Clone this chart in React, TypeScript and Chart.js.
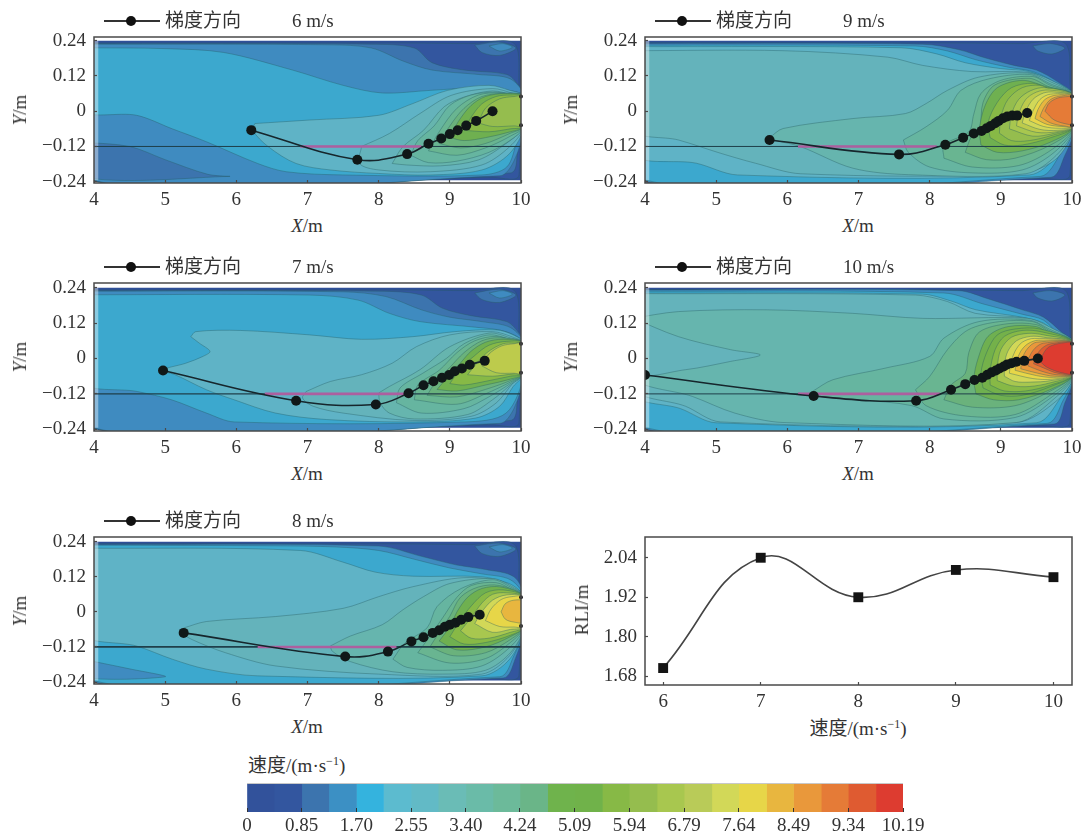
import React, { useEffect, useRef } from "react";
import { Chart, registerables } from "chart.js";

Chart.register(...registerables);

type Pt = [number, number];
type Band = [number, Pt[]];

const SERIF = '"Liberation Serif", "Noto Sans CJK SC", serif';
const INK = "#333333";

const X_TICKS = [4, 5, 6, 7, 8, 9, 10];
const Y_TICKS = [-0.24, -0.12, 0, 0.12, 0.24];
const Y_LABELS = ["−0.24", "−0.12", "0", "0.12", "0.24"];

const BAR_LEVEL_COLORS = ["#32529b","#33569f","#3c74ae","#3c90c4","#34b3de","#5cbbcf","#62bac6","#6abcb6","#6abba8","#6cba9a","#6ab588","#6fb34c","#70b24a","#87b946","#95bd4e","#a8c74f","#b9cb58","#d2d858","#e7d648","#e8b63f","#e9983b","#e57b37","#df5b31","#dd3c30"];
const FIELD_COLORS = ["#2f4f98","#33569f","#3c74ae","#3f8bc0","#3ca8ce","#5fb3c6","#64b3bb","#66b5ae","#66b5a0","#69b591","#6ab27c","#6fb050","#74b14a","#87b946","#95bd4e","#a8c74f","#bdcb4c","#d2d858","#e7d648","#e8b63f","#e9983b","#e57b37","#df5b31","#dd3c30"];
const COLOR_BOUNDS = [0,0.42,0.85,1.27,1.7,2.12,2.55,2.97,3.4,3.82,4.24,4.67,5.09,5.52,5.94,6.37,6.79,7.22,7.64,8.07,8.49,8.92,9.34,9.77,10.19];
const BAR_TICKS = [0,0.85,1.7,2.55,3.4,4.24,5.09,5.94,6.79,7.64,8.49,9.34,10.19];
const BAR_LABELS = ["0","0.85","1.70","2.55","3.40","4.24","5.09","5.94","6.79","7.64","8.49","9.34","10.19"];

const RLI_SPEEDS = [6, 7, 8, 9, 10];
const RLI_VALUES = [1.705, 2.04, 1.92, 2.003, 1.981];
const RLI_TICKS = [1.68, 1.8, 1.92, 2.04];

const FIELD_RECT: Pt[] = [[3.8,0.24],[10,0.24],[10,-0.235],[3.8,-0.235]];
const FIELD_MARGIN: Pt[] = [[4,0.24],[4.06,0.24],[4.06,-0.235],[4,-0.235]];
const OUTLET_MARKS: Pt[] = [[10,0.05],[10,-0.048]];

const PATH_6: Pt[] = [[6.21,-0.0645],[7.7,-0.165],[8.4,-0.146],[8.7,-0.111],[8.88,-0.093],[9.0,-0.078],[9.11,-0.065],[9.23,-0.049],[9.37,-0.033],[9.6,0]];
const PATH_7: Pt[] = [[4.97,-0.041],[6.84,-0.143],[7.96,-0.156],[8.42,-0.118],[8.63,-0.091],[8.77,-0.077],[8.89,-0.065],[8.99,-0.056],[9.07,-0.043],[9.17,-0.034],[9.28,-0.021],[9.49,-0.008]];
const PATH_8: Pt[] = [[5.26,-0.072],[7.53,-0.153],[8.13,-0.136],[8.46,-0.101],[8.63,-0.087],[8.76,-0.072],[8.85,-0.063],[8.93,-0.051],[9.0,-0.044],[9.08,-0.037],[9.16,-0.027],[9.26,-0.018],[9.42,-0.01]];
const PATH_9: Pt[] = [[5.75,-0.098],[7.57,-0.147],[8.22,-0.114],[8.47,-0.09],[8.62,-0.076],[8.73,-0.067],[8.8,-0.058],[8.86,-0.05],[8.92,-0.041],[8.97,-0.033],[9.03,-0.024],[9.09,-0.018],[9.16,-0.015],[9.23,-0.015],[9.37,-0.006]];
const PATH_10: Pt[] = [[4.0,-0.056],[6.37,-0.127],[7.81,-0.143],[8.3,-0.106],[8.5,-0.087],[8.63,-0.073],[8.74,-0.065],[8.81,-0.055],[8.87,-0.047],[8.93,-0.041],[8.98,-0.034],[9.04,-0.027],[9.09,-0.02],[9.15,-0.016],[9.22,-0.011],[9.33,-0.008],[9.52,0]];

const AXIS_LINE: Pt[] = [[4,-0.12],[10,-0.12]];
const LIMIT_6: Pt[] = [[6.9,-0.12],[8.6,-0.12]];
const LIMIT_7: Pt[] = [[6.4,-0.12],[8.4,-0.12]];
const LIMIT_8: Pt[] = [[6.3,-0.12],[8.25,-0.12]];
const LIMIT_9: Pt[] = [[6.15,-0.12],[8.1,-0.12]];
const LIMIT_10: Pt[] = [[6.15,-0.12],[8.15,-0.12]];

const BANDS_6: Band[] = [
  [1, [[3.8,0.232],[8.4,0.232],[9.3,0.23],[9.9,0.232],[9.97,0.1],[9.97,-0.22],[9.6,-0.225],[3.8,-0.225]]],
  [2, [[3.8,0.23],[7.9,0.228],[8.5,0.215],[8.75,0.165],[9.2,0.14],[9.8,0.125],[9.96,0.09],[10.05,0.05],[10.05,-0.05],[9.96,-0.12],[9.85,-0.21],[3.8,-0.223]]],
  [3, [[3.8,0.228],[7.3,0.226],[7.9,0.215],[8.35,0.17],[8.75,0.14],[9.4,0.125],[9.85,0.11],[10.05,0.05],[10.05,-0.05],[9.9,-0.17],[9.7,-0.22],[3.8,-0.222]]],
  [2, [[3.8,-0.105],[4.5,-0.12],[5.0,-0.165],[5.6,-0.215],[5.9,-0.222],[3.8,-0.222]]],
  [4, [[3.8,0.216],[5.0,0.213],[5.82,0.2],[6.79,0.14],[7.5,0.088],[8.05,0.062],[8.73,0.071],[9.45,0.08],[9.85,0.07],[10.05,0.05],[10.05,-0.05],[9.95,-0.1],[9.8,-0.19],[9.45,-0.217],[7.5,-0.217],[6.7,-0.206],[6.3,-0.178],[5.58,-0.104],[5.1,-0.06],[4.6,-0.014],[3.8,0.006]]],
  [2, [[9.35,0.225],[9.7,0.235],[9.93,0.215],[9.7,0.19],[9.45,0.2]]],
  [3, [[9.55,0.222],[9.75,0.23],[9.88,0.218],[9.7,0.205]]],
  [5, [[6.26,-0.042],[7.03,-0.03],[8.0,-0.014],[8.48,0.026],[8.97,0.071],[9.55,0.088],[9.84,0.071],[10.05,0.05],[10.05,-0.05],[9.84,-0.144],[9.45,-0.2],[8.73,-0.217],[8,-0.212],[7.32,-0.2],[6.84,-0.178],[6.45,-0.121],[6.23,-0.065]]],
  [6, [[7.76,-0.12],[8.15,-0.076],[8.58,-0.008],[9.02,0.054],[9.6,0.077],[9.9,0.06],[10.05,0.05],[10.05,-0.05],[9.84,-0.121],[9.45,-0.183],[8.73,-0.206],[8,-0.2],[7.73,-0.178]]],
  [7, [[8.19,-0.178],[8.34,-0.121],[8.63,-0.065],[8.92,0.015],[9.21,0.049],[9.6,0.069],[9.9,0.055],[10.05,0.05],[10.05,-0.05],[9.79,-0.11],[9.4,-0.166],[8.87,-0.186],[8.39,-0.183]]],
  [8, [[8.45,-0.15],[8.55,-0.1],[8.78,-0.05],[9.0,0.02],[9.3,0.055],[9.65,0.065],[9.95,0.052],[10.05,0.05],[10.05,-0.05],[9.9,-0.09],[9.55,-0.14],[9.1,-0.17],[8.7,-0.175]]],
  [9, [[8.7,-0.135],[8.85,-0.07],[9.1,0.01],[9.4,0.055],[9.7,0.062],[10.05,0.05],[10.05,-0.05],[9.85,-0.085],[9.5,-0.125],[9.1,-0.15]]],
  [10, [[8.85,-0.11],[9.0,-0.05],[9.2,0.01],[9.45,0.05],[9.75,0.06],[10.05,0.05],[10.05,-0.05],[9.85,-0.075],[9.5,-0.11],[9.15,-0.125]]],
  [11, [[9.0,-0.09],[9.12,-0.035],[9.3,0.02],[9.5,0.05],[9.78,0.06],[10.05,0.05],[10.05,-0.05],[9.85,-0.07],[9.5,-0.09],[9.2,-0.1]]],
  [13, [[9.2,-0.065],[9.3,-0.02],[9.45,0.025],[9.65,0.05],[9.85,0.055],[10.05,0.05],[10.05,-0.05],[9.85,-0.06],[9.55,-0.07]]],
  [14, [[9.4,-0.04],[9.5,0.01],[9.7,0.042],[9.9,0.05],[10.05,0.05],[10.05,-0.05],[9.9,-0.05],[9.6,-0.052]]],
];

const BANDS_7: Band[] = [
  [1, [[3.8,0.232],[8.4,0.232],[9.3,0.23],[9.9,0.232],[9.97,0.1],[9.97,-0.22],[9.6,-0.225],[3.8,-0.225]]],
  [2, [[3.8,0.23],[8.0,0.228],[8.6,0.215],[8.9,0.17],[9.3,0.145],[9.8,0.125],[9.96,0.09],[10.05,0.05],[10.05,-0.05],[9.96,-0.12],[9.85,-0.21],[3.8,-0.223]]],
  [3, [[3.8,0.228],[7.5,0.226],[8.1,0.21],[8.6,0.165],[9.0,0.14],[9.45,0.125],[9.85,0.105],[10.05,0.05],[10.05,-0.05],[9.9,-0.17],[9.7,-0.22],[3.8,-0.222]]],
  [4, [[3.8,0.216],[7.03,0.215],[7.71,0.198],[8.15,0.153],[8.58,0.125],[9.36,0.106],[9.79,0.091],[10.05,0.05],[10.05,-0.05],[9.79,-0.185],[9.21,-0.215],[5.97,-0.215],[5.58,-0.185],[5.09,-0.14],[4.61,-0.112],[3.8,-0.075]]],
  [2, [[9.35,0.222],[9.7,0.235],[9.93,0.215],[9.7,0.19],[9.45,0.2]]],
  [3, [[9.55,0.222],[9.75,0.23],[9.88,0.218],[9.7,0.205]]],
  [5, [[5.36,0.074],[5.43,0.091],[6.06,0.095],[7.03,0.08],[7.76,0.065],[8.48,0.074],[9.07,0.091],[9.65,0.097],[9.89,0.08],[10.05,0.05],[10.05,-0.05],[9.89,-0.095],[9.7,-0.162],[9.36,-0.202],[8.48,-0.215],[7.27,-0.207],[6.55,-0.185],[5.97,-0.14],[5.58,-0.106],[5.14,-0.055],[4.95,-0.04],[5.29,-0.016],[5.53,0.007],[5.63,0.024],[5.48,0.052]]],
  [6, [[6.98,-0.112],[7.32,-0.078],[7.76,-0.055],[8.19,-0.016],[8.53,0.04],[9.0,0.08],[9.6,0.091],[9.89,0.072],[10.05,0.05],[10.05,-0.05],[9.89,-0.083],[9.65,-0.151],[9.3,-0.196],[8.48,-0.21],[7.5,-0.185],[7.08,-0.162],[6.93,-0.134]]],
  [7, [[8.0,-0.117],[8.15,-0.095],[8.58,-0.038],[9,0.04],[9.55,0.086],[9.85,0.07],[10.05,0.05],[10.05,-0.05],[9.85,-0.09],[9.6,-0.14],[9.25,-0.19],[8.5,-0.205],[8.15,-0.185],[8.02,-0.15]]],
  [8, [[8.25,-0.15],[8.3,-0.1],[8.62,-0.05],[8.95,0],[9.2,0.05],[9.55,0.08],[9.85,0.065],[10.05,0.05],[10.05,-0.05],[9.85,-0.085],[9.55,-0.13],[9.2,-0.17],[8.6,-0.185]]],
  [9, [[8.5,-0.14],[8.55,-0.09],[8.85,-0.04],[9.1,0.02],[9.35,0.06],[9.65,0.075],[9.9,0.06],[10.05,0.05],[10.05,-0.05],[9.85,-0.08],[9.5,-0.12],[9.1,-0.155]]],
  [10, [[8.68,-0.125],[8.8,-0.08],[9.0,-0.03],[9.2,0.02],[9.45,0.06],[9.7,0.07],[10.05,0.05],[10.05,-0.05],[9.85,-0.075],[9.5,-0.105],[9.1,-0.13]]],
  [11, [[8.82,-0.105],[8.98,-0.06],[9.15,-0.015],[9.3,0.025],[9.5,0.055],[9.75,0.065],[10.05,0.05],[10.05,-0.05],[9.85,-0.07],[9.5,-0.09],[9.1,-0.11]]],
  [13, [[9.0,-0.085],[9.15,-0.035],[9.35,0.01],[9.55,0.045],[9.8,0.058],[10.05,0.05],[10.05,-0.05],[9.85,-0.06],[9.55,-0.075],[9.2,-0.09]]],
  [15, [[9.25,-0.055],[9.4,-0.01],[9.55,0.025],[9.75,0.05],[9.9,0.052],[10.05,0.05],[10.05,-0.05],[9.9,-0.052],[9.6,-0.06]]],
  [16, [[9.45,-0.025],[9.55,0.015],[9.72,0.042],[9.9,0.05],[10.05,0.05],[10.05,-0.05],[9.9,-0.05],[9.65,-0.048]]],
];

const BANDS_8: Band[] = [
  [1, [[3.8,0.234],[8.4,0.232],[9.3,0.23],[9.9,0.232],[9.97,0.1],[9.97,-0.22],[9.6,-0.228],[3.8,-0.228]]],
  [3, [[3.8,0.23],[8.0,0.225],[8.6,0.19],[9.1,0.16],[9.5,0.145],[9.9,0.12],[10.05,0.05],[10.05,-0.05],[9.92,-0.16],[9.75,-0.226],[3.8,-0.226]]],
  [4, [[3.8,0.228],[6.5,0.226],[7.4,0.222],[8.0,0.21],[8.5,0.18],[9.0,0.15],[9.45,0.13],[9.85,0.11],[10.05,0.05],[10.05,-0.05],[9.9,-0.15],[9.7,-0.222],[3.8,-0.222]]],
  [3, [[3.8,-0.16],[4.5,-0.195],[5.0,-0.222],[3.8,-0.222]]],
  [5, [[3.8,0.218],[6.9,0.21],[7.5,0.17],[7.95,0.136],[8.48,0.122],[9.45,0.12],[9.8,0.097],[10.05,0.05],[10.05,-0.05],[9.84,-0.162],[9.45,-0.219],[6.3,-0.219],[5.58,-0.196],[5.1,-0.162],[4.6,-0.117],[3.8,-0.07]]],
  [2, [[9.35,0.225],[9.7,0.235],[9.93,0.215],[9.7,0.19],[9.45,0.2]]],
  [3, [[9.55,0.222],[9.75,0.23],[9.88,0.218],[9.7,0.205]]],
  [6, [[5.26,-0.055],[5.58,-0.033],[6.55,-0.016],[7.5,0.012],[8,0.052],[8.48,0.086],[9.2,0.117],[9.8,0.1],[10.05,0.05],[10.05,-0.05],[9.84,-0.15],[9.45,-0.213],[8,-0.213],[6.55,-0.185],[5.85,-0.14],[5.38,-0.095],[5.24,-0.072]]],
  [7, [[7.32,-0.117],[7.6,-0.083],[8.05,-0.044],[8.34,0.007],[8.63,0.052],[9,0.097],[9.6,0.114],[9.85,0.09],[10.05,0.05],[10.05,-0.05],[9.85,-0.14],[9.5,-0.2],[8.9,-0.213],[8.2,-0.205],[7.6,-0.17],[7.35,-0.135]]],
  [8, [[8.2,-0.162],[8.37,-0.106],[8.68,-0.055],[8.82,0.018],[9.16,0.08],[9.6,0.11],[9.85,0.085],[10.05,0.05],[10.05,-0.05],[9.85,-0.12],[9.45,-0.185],[8.9,-0.2],[8.4,-0.19]]],
  [9, [[8.55,-0.14],[8.7,-0.09],[8.9,-0.02],[9.1,0.05],[9.3,0.09],[9.65,0.1],[9.88,0.075],[10.05,0.05],[10.05,-0.05],[9.85,-0.105],[9.5,-0.16],[9.0,-0.175]]],
  [10, [[8.72,-0.12],[8.85,-0.07],[9.0,-0.015],[9.15,0.05],[9.4,0.085],[9.7,0.09],[10.05,0.05],[10.05,-0.05],[9.85,-0.095],[9.5,-0.14],[9.05,-0.15]]],
  [11, [[8.85,-0.1],[9.0,-0.05],[9.1,0],[9.25,0.05],[9.45,0.08],[9.72,0.085],[10.05,0.05],[10.05,-0.05],[9.85,-0.085],[9.5,-0.12],[9.1,-0.13]]],
  [13, [[9.0,-0.085],[9.13,-0.035],[9.3,0.02],[9.5,0.065],[9.75,0.075],[10.05,0.05],[10.05,-0.05],[9.85,-0.08],[9.5,-0.105],[9.2,-0.11]]],
  [15, [[9.15,-0.065],[9.3,-0.02],[9.45,0.03],[9.6,0.06],[9.8,0.065],[10.05,0.05],[10.05,-0.05],[9.85,-0.07],[9.55,-0.09],[9.3,-0.09]]],
  [17, [[9.35,-0.04],[9.45,0],[9.6,0.04],[9.8,0.058],[10.05,0.05],[10.05,-0.05],[9.85,-0.06],[9.6,-0.07]]],
  [18, [[9.5,-0.03],[9.58,0.01],[9.72,0.042],[9.87,0.052],[10.05,0.05],[10.05,-0.05],[9.9,-0.052],[9.7,-0.05]]],
  [19, [[9.72,0],[9.78,0.028],[9.9,0.04],[10.05,0.035],[10.05,-0.035],[9.9,-0.035],[9.78,-0.025]]],
];

const BANDS_9: Band[] = [
  [1, [[3.8,0.234],[8.4,0.232],[9.3,0.23],[9.9,0.232],[9.97,0.1],[9.97,-0.22],[9.6,-0.228],[3.8,-0.228]]],
  [3, [[3.8,0.23],[7.9,0.228],[8.4,0.21],[8.8,0.18],[9.2,0.155],[9.5,0.14],[9.8,0.1],[10.05,0.05],[10.05,-0.05],[9.9,-0.15],[9.7,-0.225],[3.8,-0.225]]],
  [4, [[3.8,0.225],[7.8,0.222],[8.25,0.205],[8.65,0.175],[9.1,0.15],[9.45,0.135],[9.75,0.1],[10.05,0.05],[10.05,-0.05],[9.85,-0.14],[9.55,-0.222],[3.8,-0.22]]],
  [5, [[3.8,0.22],[7.6,0.216],[8.1,0.195],[8.5,0.165],[9,0.145],[9.4,0.135],[9.72,0.1],[10.05,0.05],[10.05,-0.05],[9.8,-0.15],[9.4,-0.217],[5.3,-0.217],[4.72,-0.177],[3.8,-0.14]]],
  [6, [[3.8,0.206],[5.94,0.206],[7.41,0.184],[7.9,0.156],[8.59,0.135],[9.37,0.133],[9.71,0.105],[10.05,0.05],[10.05,-0.05],[9.76,-0.166],[9.22,-0.213],[6.19,-0.213],[5.55,-0.177],[5.06,-0.143],[4.47,-0.098],[3.8,-0.06]]],
  [2, [[9.45,0.222],[9.7,0.23],[9.9,0.215],[9.72,0.195],[9.52,0.205]]],
  [7, [[5.75,-0.09],[5.94,-0.059],[6.92,-0.025],[7.66,-0.008],[7.95,0.026],[8.25,0.071],[8.69,0.116],[9.37,0.13],[9.7,0.1],[10.05,0.05],[10.05,-0.05],[9.78,-0.15],[9.35,-0.213],[7.7,-0.216],[6.92,-0.194],[6.19,-0.121],[5.85,-0.1]]],
  [8, [[7.63,-0.098],[7.95,-0.053],[8.25,0.003],[8.44,0.071],[8.83,0.11],[9.4,0.125],[9.68,0.095],[10.05,0.05],[10.05,-0.05],[9.75,-0.14],[9.3,-0.2],[8.6,-0.21],[8,-0.19],[7.7,-0.14]]],
  [9, [[8.2,-0.16],[8.2,-0.115],[8.55,-0.07],[8.62,-0.01],[8.72,0.06],[9.0,0.105],[9.45,0.118],[9.68,0.09],[10.05,0.05],[10.05,-0.05],[9.72,-0.13],[9.25,-0.185],[8.6,-0.19]]],
  [10, [[8.5,-0.14],[8.58,-0.09],[8.7,-0.06],[8.75,0.03],[8.92,0.09],[9.4,0.112],[9.66,0.085],[10.05,0.05],[10.05,-0.05],[9.7,-0.115],[9.2,-0.16],[8.8,-0.165]]],
  [11, [[8.72,-0.115],[8.7,-0.06],[8.78,0.02],[8.95,0.08],[9.3,0.105],[9.62,0.085],[10.05,0.05],[10.05,-0.05],[9.7,-0.105],[9.3,-0.135],[8.95,-0.14]]],
  [13, [[8.85,-0.09],[8.82,-0.04],[8.95,0.03],[9.15,0.08],[9.45,0.095],[9.68,0.075],[10.05,0.05],[10.05,-0.05],[9.7,-0.09],[9.3,-0.115],[9.05,-0.115]]],
  [14, [[8.98,-0.075],[9.0,-0.02],[9.1,0.04],[9.3,0.08],[9.55,0.088],[9.72,0.07],[10.05,0.05],[10.05,-0.05],[9.72,-0.082],[9.4,-0.1],[9.15,-0.1]]],
  [15, [[9.12,-0.06],[9.15,-0.01],[9.25,0.04],[9.42,0.07],[9.62,0.08],[10.05,0.05],[10.05,-0.05],[9.75,-0.075],[9.45,-0.085]]],
  [16, [[9.22,-0.05],[9.25,-0.01],[9.35,0.04],[9.5,0.065],[9.68,0.072],[10.05,0.05],[10.05,-0.05],[9.78,-0.07],[9.5,-0.072]]],
  [17, [[9.3,-0.04],[9.35,0],[9.45,0.04],[9.6,0.062],[9.75,0.065],[10.05,0.05],[10.05,-0.05],[9.8,-0.065],[9.55,-0.062]]],
  [18, [[9.4,-0.032],[9.45,0],[9.55,0.04],[9.7,0.058],[10.05,0.05],[10.05,-0.05],[9.82,-0.058],[9.6,-0.052]]],
  [19, [[9.48,-0.025],[9.52,0.005],[9.62,0.04],[9.78,0.055],[10.05,0.05],[10.05,-0.05],[9.85,-0.052],[9.65,-0.045]]],
  [20, [[9.55,-0.018],[9.6,0.01],[9.7,0.04],[9.85,0.052],[10.05,0.05],[10.05,-0.05],[9.88,-0.05],[9.7,-0.04]]],
  [21, [[9.62,0],[9.68,0.028],[9.8,0.045],[9.95,0.05],[10.05,0.05],[10.05,-0.045],[9.95,-0.045],[9.75,-0.03]]],
];

const BANDS_10: Band[] = [
  [1, [[3.8,0.234],[8.4,0.232],[9.3,0.23],[9.9,0.232],[9.97,0.1],[9.97,-0.22],[9.6,-0.228],[3.8,-0.228]]],
  [3, [[3.8,0.232],[8.4,0.23],[8.85,0.2],[9.3,0.165],[9.6,0.14],[9.85,0.09],[10.05,0.05],[10.05,-0.05],[9.9,-0.15],[9.75,-0.222],[3.8,-0.225]]],
  [4, [[3.8,0.228],[8.2,0.222],[8.75,0.185],[9.3,0.15],[9.6,0.13],[9.82,0.08],[10.05,0.05],[10.05,-0.05],[9.88,-0.14],[9.65,-0.22],[3.8,-0.22]]],
  [5, [[3.8,0.222],[7.9,0.218],[8.3,0.195],[8.65,0.165],[9.3,0.14],[9.6,0.12],[9.8,0.08],[10.05,0.05],[10.05,-0.05],[9.85,-0.13],[9.5,-0.218],[5.0,-0.218],[4.5,-0.17],[3.8,-0.115]]],
  [6, [[3.8,0.22],[7.8,0.215],[8.25,0.193],[8.64,0.153],[9.37,0.136],[9.7,0.1],[10.05,0.05],[10.05,-0.05],[9.8,-0.14],[9.22,-0.217],[5.06,-0.215],[4.57,-0.162],[3.8,-0.095]]],
  [2, [[9.45,0.222],[9.7,0.23],[9.9,0.215],[9.72,0.195],[9.52,0.205]]],
  [7, [[3.8,0.135],[4.47,0.159],[5.7,0.165],[6.92,0.153],[7.9,0.136],[9.37,0.136],[9.7,0.105],[10.05,0.05],[10.05,-0.05],[9.78,-0.13],[9.22,-0.217],[5.94,-0.217],[5.26,-0.185],[4.67,-0.129],[3.8,-0.06]]],
  [6, [[3.8,0.14],[4.47,0.074],[5.2,0.03],[5.62,0.012],[5.2,-0.01],[4.57,-0.038],[3.8,-0.05]]],
  [8, [[6.35,-0.112],[6.64,-0.072],[7.37,-0.033],[8.0,0.007],[8.2,0.069],[8.69,0.125],[9.4,0.13],[9.68,0.1],[10.05,0.05],[10.05,-0.05],[9.75,-0.125],[9.2,-0.2],[8.2,-0.205],[7.75,-0.16],[7.0,-0.14],[6.35,-0.125]]],
  [9, [[7.8,-0.106],[8.0,-0.061],[8.25,0.03],[8.54,0.097],[8.98,0.125],[9.45,0.125],[9.68,0.095],[10.05,0.05],[10.05,-0.05],[9.72,-0.12],[9.2,-0.19],[8.5,-0.195],[7.95,-0.16]]],
  [10, [[8.2,-0.14],[8.3,-0.09],[8.5,-0.05],[8.55,0.02],[8.7,0.09],[9.1,0.118],[9.5,0.115],[9.68,0.09],[10.05,0.05],[10.05,-0.05],[9.7,-0.11],[9.2,-0.16],[8.6,-0.165]]],
  [11, [[8.65,-0.12],[8.62,-0.07],[8.68,0],[8.82,0.075],[9.1,0.108],[9.5,0.108],[9.68,0.085],[10.05,0.05],[10.05,-0.05],[9.7,-0.105],[9.25,-0.14],[8.9,-0.14]]],
  [12, [[8.75,-0.1],[8.72,-0.05],[8.8,0.02],[8.95,0.08],[9.2,0.1],[9.55,0.1],[10.05,0.05],[10.05,-0.05],[9.7,-0.095],[9.3,-0.125],[9,-0.125]]],
  [13, [[8.85,-0.09],[8.85,-0.04],[8.92,0.03],[9.05,0.075],[9.3,0.095],[9.58,0.09],[10.05,0.05],[10.05,-0.05],[9.7,-0.09],[9.35,-0.11],[9.05,-0.11]]],
  [15, [[8.95,-0.075],[8.95,-0.03],[9.0,0.03],[9.15,0.072],[9.38,0.085],[9.6,0.08],[10.05,0.05],[10.05,-0.05],[9.7,-0.082],[9.4,-0.095],[9.15,-0.092]]],
  [17, [[9.05,-0.06],[9.05,-0.02],[9.1,0.025],[9.22,0.06],[9.42,0.075],[9.6,0.072],[10.05,0.05],[10.05,-0.05],[9.7,-0.075],[9.42,-0.08],[9.2,-0.078]]],
  [18, [[9.12,-0.05],[9.14,-0.015],[9.2,0.025],[9.3,0.055],[9.47,0.068],[10.05,0.05],[10.05,-0.05],[9.72,-0.07],[9.45,-0.068]]],
  [19, [[9.2,-0.04],[9.22,-0.01],[9.28,0.025],[9.38,0.05],[9.53,0.062],[10.05,0.05],[10.05,-0.05],[9.74,-0.064],[9.5,-0.058]]],
  [20, [[9.28,-0.035],[9.3,0],[9.38,0.035],[9.5,0.055],[10.05,0.05],[10.05,-0.05],[9.76,-0.06],[9.52,-0.05]]],
  [21, [[9.38,-0.025],[9.4,0.005],[9.48,0.035],[9.6,0.052],[10.05,0.05],[10.05,-0.05],[9.78,-0.055],[9.56,-0.042]]],
  [22, [[9.46,-0.018],[9.5,0.01],[9.58,0.035],[9.7,0.05],[10.05,0.05],[10.05,-0.05],[9.8,-0.05],[9.6,-0.032]]],
  [23, [[9.55,-0.01],[9.6,0.018],[9.68,0.04],[9.85,0.052],[10.05,0.05],[10.05,-0.05],[9.85,-0.048],[9.65,-0.03]]],
];

const PANELS = [
  { speed: "6 m/s", bands: BANDS_6, path: PATH_6, limit: LIMIT_6, left: 94, top: 37, bottom: 183, yMin: -0.2444, yMax: 0.2526, lineW: 1 },
  { speed: "9 m/s", bands: BANDS_9, path: PATH_9, limit: LIMIT_9, left: 645, top: 37, bottom: 183, yMin: -0.2444, yMax: 0.2526, lineW: 1 },
  { speed: "7 m/s", bands: BANDS_7, path: PATH_7, limit: LIMIT_7, left: 94, top: 283, bottom: 431, yMin: -0.2458, yMax: 0.2559, lineW: 1.4 },
  { speed: "10 m/s", bands: BANDS_10, path: PATH_10, limit: LIMIT_10, left: 645, top: 283, bottom: 431, yMin: -0.2458, yMax: 0.2559, lineW: 1 },
  { speed: "8 m/s", bands: BANDS_8, path: PATH_8, limit: LIMIT_8, left: 94, top: 537, bottom: 684, yMin: -0.2468, yMax: 0.2561, lineW: 1.8 },
];
const PLOT_W = 427;

const xy = (p: Pt[]) => p.map(([x, y]) => ({ x, y }));
const tickFont = { family: SERIF, size: 19 };

const framePlugin = {
  id: "frame",
  afterDraw(chart: any) {
    const { left, top, width, height } = chart.chartArea;
    const c = chart.ctx;
    c.save();
    c.strokeStyle = "#4a4a4a";
    c.lineWidth = 1.5;
    c.strokeRect(left, top, width, height);
    c.restore();
  },
};

const barTopPlugin = {
  id: "barTop",
  afterDraw(chart: any) {
    const { left, right, top } = chart.chartArea;
    const c = chart.ctx;
    c.save();
    c.strokeStyle = "#c8c8c8";
    c.lineWidth = 1;
    c.beginPath();
    c.moveTo(left, top - 0.5);
    c.lineTo(right, top - 0.5);
    c.stroke();
    c.restore();
  },
};

const fitY = (a: any) => { a.width = 70; a.paddingTop = 0; a.paddingBottom = 0; };

function ContourPanel({ p }: { p: (typeof PANELS)[number] }) {
  const ref = useRef<HTMLCanvasElement>(null);
  useEffect(() => {
    const fill = (data: Pt[], color: string, tension: number, line: boolean) => ({
      data: xy(data),
      fill: "shape",
      backgroundColor: color,
      borderColor: line ? "rgba(38,92,98,0.48)" : "rgba(0,0,0,0)",
      borderWidth: line ? 0.8 : 0,
      pointRadius: 0,
      tension,
    });
    const drawn: any[] = [
      fill(FIELD_RECT, FIELD_COLORS[0], 0, false),
      ...p.bands.map(([lv, pts]) => fill([...pts, pts[0]], FIELD_COLORS[lv], 0.32, true)),
      fill(FIELD_MARGIN, "rgba(255,255,255,0.4)", 0, false),
      { data: xy(AXIS_LINE), borderColor: "#1f3f4a", borderWidth: p.lineW, pointRadius: 0 },
      { data: xy(p.limit), borderColor: "#ad5f9f", borderWidth: 2.6, pointRadius: 0 },
      { data: xy(OUTLET_MARKS), showLine: false, pointRadius: 2, pointBackgroundColor: "#222", pointBorderWidth: 0, clip: false },
      { data: xy(p.path), borderColor: "#16262c", borderWidth: 1.6, tension: 0.4, pointRadius: 5, pointBackgroundColor: "#101818", pointBorderColor: "#101818", pointBorderWidth: 0 },
    ];
    const n = drawn.length;
    drawn.forEach((d, i) => (d.order = n - i));
    const chart = new Chart(ref.current!, {
      type: "line",
      data: { datasets: drawn },
      plugins: [framePlugin],
      options: {
        responsive: false,
        animation: false,
        events: [],
        layout: { autoPadding: false, padding: { top: 12, right: 24, left: 0, bottom: 0 } },
        plugins: { legend: { display: false }, tooltip: { enabled: false }, title: { display: false } },
        scales: {
          x: {
            type: "linear", min: 4, max: 10,
            afterBuildTicks: (a: any) => { a.ticks = X_TICKS.map((value) => ({ value })); },
            afterFit: (a: any) => { a.height = 30; },
            border: { display: false },
            grid: { drawOnChartArea: false, tickLength: -3, tickColor: "#4a4a4a", tickWidth: 1.2, z: 2 },
            ticks: { font: tickFont, color: INK, padding: 9, maxRotation: 0, autoSkip: false, callback: (v: any) => String(v) },
          },
          y: {
            type: "linear", min: p.yMin, max: p.yMax,
            afterBuildTicks: (a: any) => { a.ticks = Y_TICKS.map((value) => ({ value })); },
            afterFit: fitY,
            border: { display: false },
            grid: { drawOnChartArea: false, tickLength: -3, tickColor: "#4a4a4a", tickWidth: 1.2, z: 2 },
            ticks: { font: tickFont, color: INK, padding: 11, autoSkip: false, callback: (v: any) => Y_LABELS[Y_TICKS.indexOf(v)] },
          },
        },
      } as any,
    });
    return () => chart.destroy();
  }, [p]);
  const h = p.bottom - p.top;
  return (
    <canvas ref={ref} width={70 + PLOT_W + 24} height={12 + h + 30}
      style={{ position: "absolute", left: p.left - 70, top: p.top - 12, display: "block" }} />
  );
}

function RliPanel() {
  const ref = useRef<HTMLCanvasElement>(null);
  useEffect(() => {
    const chart = new Chart(ref.current!, {
      type: "line",
      data: {
        datasets: [{
          data: RLI_SPEEDS.map((x, i) => ({ x, y: RLI_VALUES[i] })),
          borderColor: "#444", borderWidth: 1.6, tension: 0.42,
          pointStyle: "rect", pointRadius: 7, pointBackgroundColor: "#141414", pointBorderWidth: 0,
        }],
      },
      plugins: [framePlugin],
      options: {
        responsive: false,
        animation: false,
        events: [],
        layout: { autoPadding: false, padding: { top: 12, right: 14, left: 0, bottom: 0 } },
        plugins: { legend: { display: false }, tooltip: { enabled: false } },
        scales: {
          x: {
            type: "linear", min: 5.814, max: 10.19,
            afterBuildTicks: (a: any) => { a.ticks = RLI_SPEEDS.map((value) => ({ value })); },
            afterFit: (a: any) => { a.height = 30; },
            border: { display: false },
            grid: { drawOnChartArea: false, tickLength: -3, tickColor: "#4a4a4a", tickWidth: 1.2, z: 2 },
            ticks: { font: tickFont, color: INK, padding: 9, maxRotation: 0, autoSkip: false, callback: (v: any) => String(v) },
          },
          y: {
            type: "linear", min: 1.6535, max: 2.103,
            afterBuildTicks: (a: any) => { a.ticks = RLI_TICKS.map((value) => ({ value })); },
            afterFit: fitY,
            border: { display: false },
            grid: { drawOnChartArea: false, tickLength: -3, tickColor: "#4a4a4a", tickWidth: 1.2, z: 2 },
            ticks: { font: tickFont, color: INK, padding: 11, autoSkip: false, callback: (v: any) => Number(v).toFixed(2) },
          },
        },
      } as any,
    });
    return () => chart.destroy();
  }, []);
  return <canvas ref={ref} width={70 + PLOT_W + 14} height={12 + 148 + 30} style={{ position: "absolute", left: 575, top: 525, display: "block" }} />;
}

function ColorBar() {
  const ref = useRef<HTMLCanvasElement>(null);
  useEffect(() => {
    const chart = new Chart(ref.current!, {
      type: "bar",
      data: {
        labels: ["速度"],
        datasets: BAR_LEVEL_COLORS.map((c, i) => ({
          data: [[COLOR_BOUNDS[i], COLOR_BOUNDS[i + 1]]],
          backgroundColor: c,
          grouped: false,
          barPercentage: 1,
          categoryPercentage: 1,
        })),
      },
      plugins: [barTopPlugin],
      options: {
        indexAxis: "y",
        responsive: false,
        animation: false,
        events: [],
        layout: { autoPadding: false, padding: { top: 2, right: 30, left: 30, bottom: 0 } },
        plugins: { legend: { display: false }, tooltip: { enabled: false } },
        scales: {
          y: { display: false },
          x: {
            type: "linear", min: 0, max: 10.19,
            afterBuildTicks: (a: any) => { a.ticks = BAR_TICKS.map((value) => ({ value })); },
            afterFit: (a: any) => { a.height = 22; },
            border: { display: false },
            grid: { drawOnChartArea: false, tickLength: -4, tickColor: "#333", tickWidth: 1, z: 2 },
            ticks: { font: tickFont, color: INK, padding: 7, maxRotation: 0, autoSkip: false, callback: (v: any) => BAR_LABELS[BAR_TICKS.indexOf(v)] },
          },
        },
      } as any,
    });
    return () => chart.destroy();
  }, []);
  return <canvas ref={ref} width={716} height={52} style={{ position: "absolute", left: 217, top: 782, display: "block" }} />;
}

const abs = (left: number, top: number): React.CSSProperties => ({
  position: "absolute", left, top, lineHeight: "20px", height: 20, whiteSpace: "nowrap", color: INK, fontFamily: SERIF, fontSize: 19,
});

function Legend({ left, top, speed }: { left: number; top: number; speed: string }) {
  return (
    <>
      <div style={{ position: "absolute", left: left + 10, top: top - 17, width: 56, height: 2, background: "#333" }} />
      <div style={{ position: "absolute", left: left + 32, top: top - 21, width: 10, height: 10, borderRadius: 5, background: "#111" }} />
      <div style={abs(left + 71, top - 26)}>梯度方向</div>
      <div style={abs(left + 198, top - 26)}>{speed}</div>
    </>
  );
}

function VTitle({ cx, cy, children }: { cx: number; cy: number; children: React.ReactNode }) {
  return (
    <div style={{ ...abs(cx, cy - 10), transform: "translateX(-50%) rotate(-90deg)" }}>{children}</div>
  );
}
function HTitle({ cx, cy, children }: { cx: number; cy: number; children: React.ReactNode }) {
  return <div style={{ ...abs(cx, cy - 10), transform: "translateX(-50%)" }}>{children}</div>;
}
const Sup = () => <sup style={{ fontSize: 12, lineHeight: 0 }}>−1</sup>;

export default function App() {
  return (
    <div style={{ position: "absolute", left: 0, top: 0, width: 1086, height: 834, overflow: "hidden", background: "#fff" }}>
      {PANELS.map((p) => (
        <React.Fragment key={p.speed}>
          <ContourPanel p={p} />
          <Legend left={p.left} top={p.top} speed={p.speed} />
          <HTitle cx={p.left + 213} cy={p.bottom + 43}><i>X</i>/m</HTitle>
          <VTitle cx={p.left - 74} cy={(p.top + p.bottom) / 2}><i>Y</i>/m</VTitle>
        </React.Fragment>
      ))}
      <RliPanel />
      <HTitle cx={858} cy={729}>速度/(m·s<Sup />)</HTitle>
      <VTitle cx={582} cy={610}>RLI/m</VTitle>
      <ColorBar />
      <div style={abs(248, 756)}>速度/(m·s<Sup />)</div>
    </div>
  );
}
